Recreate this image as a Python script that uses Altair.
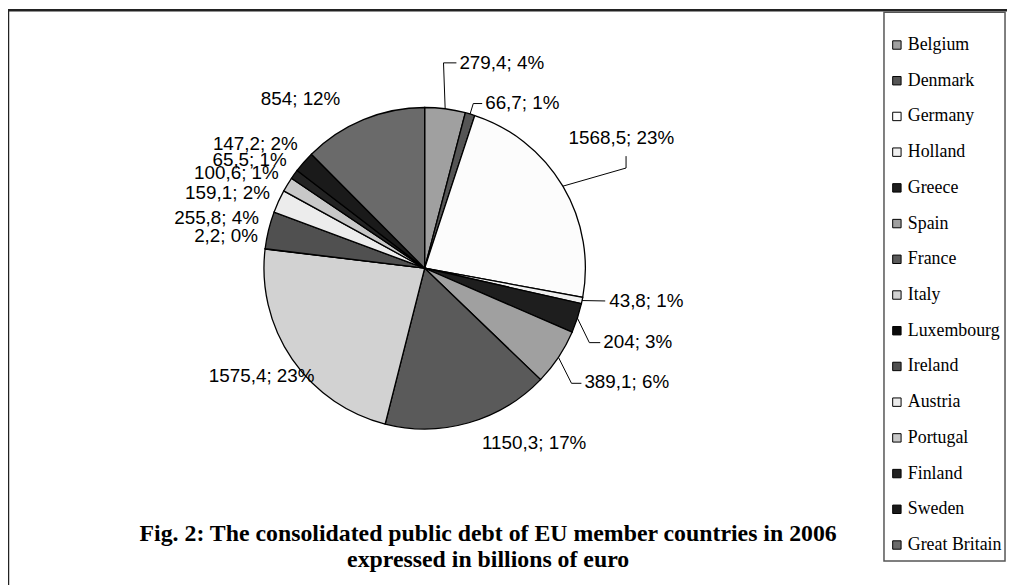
import math
import altair as alt
import pandas as pd

# ---------------- data ----------------
countries = ["Belgium", "Denmark", "Germany", "Holland", "Greece", "Spain", "France",
             "Italy", "Luxembourg", "Ireland", "Austria", "Portugal", "Finland",
             "Sweden", "Great Britain"]
debt = [279.4, 66.7, 1568.5, 43.8, 204, 389.1, 1150.3, 1575.4, 2.2, 255.8,
        159.1, 100.6, 65.5, 147.2, 854]
shades = ["#a0a0a0", "#555555", "#fcfcfc", "#f0f0f0", "#1e1e1e", "#a0a0a0", "#5a5a5a",
          "#d2d2d2", "#0a0a0a", "#505050", "#ececec", "#c8c8c8", "#232323",
          "#1a1a1a", "#6a6a6a"]
title_lines = ["Fig. 2: The consolidated public debt of EU member countries in 2006",
               "expressed in billions of euro"]

# ---------------- layout (page pixels) ----------------
OFFX, OFFY = 5, 8
CX, CY, R = 425, 268, 162
# label anchor (x, y, align)
label_layout = {
    "Belgium": (460, 61, "left"),
    "Denmark": (486, 102, "left"),
    "Germany": (570, 137, "left"),
    "Holland": (611, 301, "left"),
    "Greece": (605, 342, "left"),
    "Spain": (586, 383, "left"),
    "France": (588, 444, "right"),
    "Italy": (314, 377, "right"),
    "Luxembourg": (257, 236, "right"),
    "Ireland": (258, 217, "right"),
    "Austria": (269, 192, "right"),
    "Portugal": (278, 172, "right"),
    "Finland": (286, 159, "right"),
    "Sweden": (297, 143, "right"),
    "Great Britain": (340, 97, "right"),
}
# leader line bends after the slice edge point
leader_layout = {
    "Belgium": [(444, 61), (457, 61)],
    "Denmark": [(474, 102), (483, 102)],
    "Germany": [(628, 167), (628, 155)],
    "Holland": [(607, 301)],
    "Greece": [(591, 343), (602, 343)],
    "Spain": [(573, 384), (583, 384)],
}
LEG_X0, LEG_X1, LEG_Y0, LEG_Y1 = 888, 1010, 10, 563
LEG_FIRST, LEG_STEP = 43, 36.0

total = sum(debt)
df = pd.DataFrame({"country": countries, "debt": debt, "idx": range(len(countries))})
df["text"] = [f"{v:g}".replace(".", ",") + f"; {round(v / total * 100)}%" for v in debt]
cum = df["debt"].cumsum() - df["debt"] / 2
df["ang"] = cum / total * 2 * math.pi
df["ex"] = CX + R * df["ang"].apply(math.sin)
df["ey"] = CY - R * df["ang"].apply(math.cos)
df["lx"] = [label_layout[c][0] - OFFX for c in countries]
df["ly"] = [label_layout[c][1] - OFFY for c in countries]
df["align"] = [label_layout[c][2] for c in countries]
df["legy"] = [LEG_FIRST - OFFY + i * LEG_STEP for i in range(len(countries))]

rows = []
for c, ex, ey in zip(df["country"], df["ex"], df["ey"]):
    if c in leader_layout:
        pts = [(ex, ey)] + leader_layout[c]
        for k, (px, py) in enumerate(pts):
            rows.append({"country": c, "k": k, "x": px - OFFX, "y": py - OFFY})
leaders = pd.DataFrame(rows)

W, H = 1007, 577
color = alt.Color("country:N", scale=alt.Scale(domain=countries, range=shades), legend=None)

frame = alt.Chart(pd.DataFrame({"a": [0]})).mark_rect(
    fill="white", stroke="#222222", strokeWidth=2.5
).encode(x=alt.value(0), x2=alt.value(W + 10), y=alt.value(0), y2=alt.value(H + 10))

pie = alt.Chart(df).mark_arc(radius=R, stroke="black", strokeWidth=1.3).encode(
    theta=alt.Theta("debt:Q", stack=True),
    order=alt.Order("idx:Q"),
    color=color,
    x=alt.value(CX - OFFX),
    y=alt.value(CY - OFFY),
)

lead = alt.Chart(leaders).mark_line(color="black", strokeWidth=1).encode(
    x=alt.X("x:Q", scale=None, axis=None),
    y=alt.Y("y:Q", scale=None, axis=None),
    detail="country:N",
    order="k:Q",
)

def labels(al):
    return alt.Chart(df).transform_filter(alt.datum.align == al).mark_text(
        align=al, baseline="middle", font="Liberation Sans", fontSize=19, color="black"
    ).encode(
        x=alt.X("lx:Q", scale=None, axis=None),
        y=alt.Y("ly:Q", scale=None, axis=None),
        text="text:N",
    )

legbox = alt.Chart(pd.DataFrame({"a": [0]})).mark_rect(
    fill="white", stroke="#555555", strokeWidth=1.5
).encode(x=alt.value(LEG_X0 - OFFX), x2=alt.value(LEG_X1 - OFFX),
         y=alt.value(LEG_Y0 - OFFY), y2=alt.value(LEG_Y1 - OFFY))

legsq = alt.Chart(df).mark_square(size=72, stroke="black", strokeWidth=1, opacity=1).encode(
    x=alt.value(LEG_X0 + 13 - OFFX),
    y=alt.Y("legy:Q", scale=None, axis=None),
    fill=color,
)

legtx = alt.Chart(df).mark_text(
    align="left", baseline="middle", font="Liberation Serif", fontSize=18, color="black"
).encode(
    x=alt.value(LEG_X0 + 24 - OFFX),
    y=alt.Y("legy:Q", scale=None, axis=None),
    text="country:N",
)

tdf = pd.DataFrame({"t": title_lines, "ty": [536 - OFFY, 562 - OFFY]})
title = alt.Chart(tdf).mark_text(
    align="center", baseline="middle", font="Liberation Serif", fontSize=24,
    fontWeight="bold", color="black"
).encode(
    x=alt.value(489 - OFFX),
    y=alt.Y("ty:Q", scale=None, axis=None),
    text="t:N",
)

chart = alt.layer(frame, pie, lead, labels("left"), labels("right"), legbox, legsq, legtx, title).properties(
    width=W, height=H, padding=0, autosize=alt.AutoSizeParams(type="none")
).configure_view(stroke=None)

chart.save("out.html", embed_options={"renderer": "svg", "actions": False})
